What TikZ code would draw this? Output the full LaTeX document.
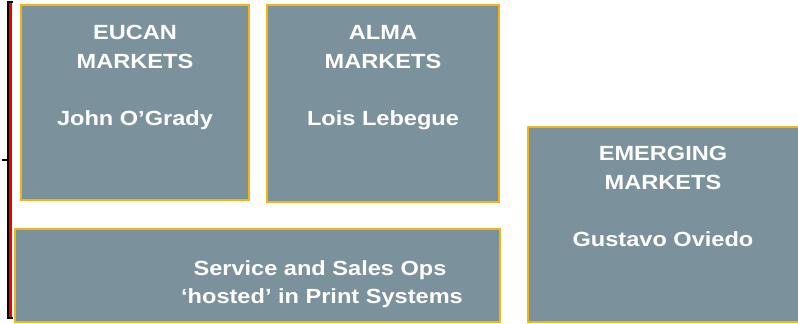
\documentclass[tikz,border=0pt]{standalone}
\usepackage{fontspec}
\newfontfamily\boxfont{Liberation Sans}[FakeStretch=1.15]
\definecolor{panelfill}{RGB}{123,145,155}
\definecolor{panelrule}{RGB}{245,180,22}
\definecolor{barred}{RGB}{235,0,0}
\begin{document}
\begin{tikzpicture}[x=1pt,y=-1pt,
  panel/.style={draw=panelrule,fill=panelfill,line width=2pt},
  paneltext/.style={anchor=base,text=white,inner sep=0pt,
    font=\boxfont\bfseries\fontsize{20.5}{28}\selectfont}]
  \useasboundingbox (0,0) rectangle (798,324);

  % bracket with red bar on the left
  \draw[black,line width=1.6pt] (13,2) -- (8,2) -- (8,318) -- (13,318);
  \draw[black,line width=1.6pt] (8,160) -- (2,160);
  \draw[barred,line width=3pt] (10.5,3) -- (10.5,317);

  % panels
  \begin{scope}
    \clip (0,0) rectangle (798,324);
    \draw[panel] (21,5) rectangle (249,200) coordinate (eucanbr);
    \draw[panel] (267,5) rectangle (499,202);
    \draw[panel] (15,229) rectangle (500,322);
    \draw[panel] (528,127) rectangle (805,322);
  \end{scope}

  % EUCAN
  \node[paneltext] (eucan1) at (135,39) {EUCAN};
  \node[paneltext] (eucan2) at (135,68) {MARKETS};
  \node[paneltext] (eucan3) at (135,125) {John O’Grady};

  % ALMA
  \node[paneltext] (alma1) at (383,39) {ALMA};
  \node[paneltext] (alma2) at (383,68) {MARKETS};
  \node[paneltext] (alma3) at (383,125) {Lois Lebegue};

  % Emerging markets
  \node[paneltext] (emer1) at (663,160) {EMERGING};
  \node[paneltext] (emer2) at (663,189) {MARKETS};
  \node[paneltext] (emer3) at (663,246) {Gustavo Oviedo};

  % Service and sales operations
  \node[paneltext] (svc1) at (320,275) {Service and Sales Ops};
  \node[paneltext] (svc2) at (322,303) {‘hosted’ in Print Systems};
\end{tikzpicture}
\end{document}
